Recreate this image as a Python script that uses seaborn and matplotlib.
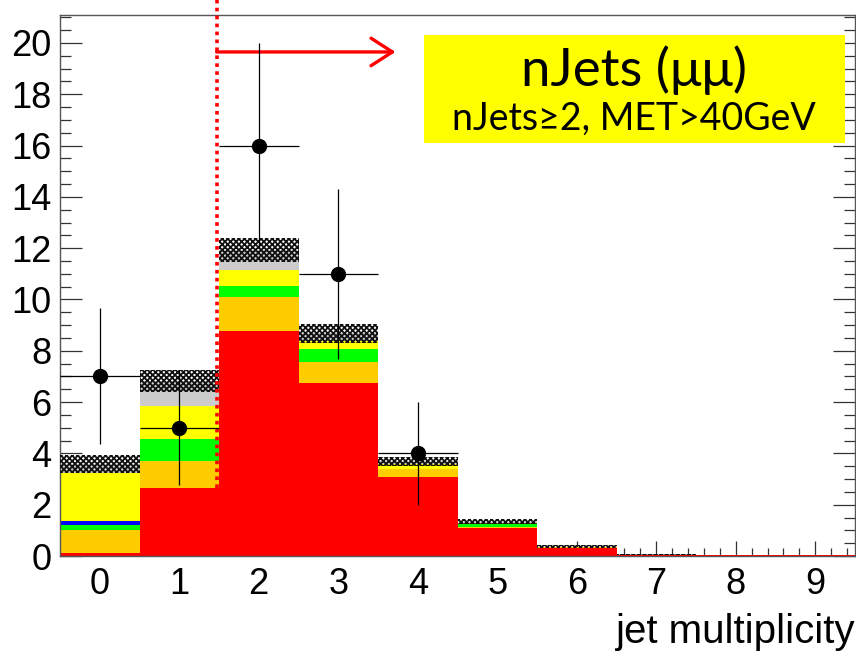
import numpy as np
import pandas as pd
import matplotlib
matplotlib.use("Agg")
import matplotlib.pyplot as plt
from matplotlib.patches import Rectangle
from matplotlib.ticker import MultipleLocator
import seaborn as sns

# ---- histogram contents (jet multiplicity bins 0..9) ----
njet_bins = [0, 1, 2, 3, 4, 5, 6, 7, 8, 9]
mc_red    = [0.13, 2.66, 8.78, 6.76, 3.09, 1.08, 0.33, 0.05, 0.03, 0.02]
mc_orange = [0.89, 1.06, 1.33, 0.80, 0.30, 0.05, 0.02, 0.00, 0.00, 0.00]
mc_green  = [0.18, 0.84, 0.43, 0.51, 0.00, 0.10, 0.00, 0.00, 0.00, 0.00]
mc_blue   = [0.18, 0.00, 0.00, 0.00, 0.00, 0.00, 0.00, 0.00, 0.00, 0.00]
mc_yellow = [1.84, 1.29, 0.61, 0.30, 0.20, 0.06, 0.02, 0.00, 0.00, 0.00]
mc_gray   = [0.36, 0.97, 0.78, 0.31, 0.10, 0.05, 0.00, 0.00, 0.00, 0.00]
mc_unc    = [0.36, 0.43, 0.47, 0.36, 0.17, 0.10, 0.06, 0.01, 0.00, 0.00]

data_x   = [0, 1, 2, 3, 4]
data_y   = [7, 5, 16, 11, 4]
data_err = [2.65, 2.24, 4.00, 3.32, 2.00]

y_ticks = [0, 2, 4, 6, 8, 10, 12, 14, 16, 18, 20]
cut_value = 1.47
title_text = "nJets (\u03bc\u03bc)"
cut_text = "nJets\u22652, MET>40GeV"
x_title = "jet multiplicity"

components = {
    "gray": (mc_gray, "#cccccc"),
    "yellow": (mc_yellow, "#ffff00"),
    "blue": (mc_blue, "#0000ff"),
    "green": (mc_green, "#00ff00"),
    "orange": (mc_orange, "#ffcc00"),
    "red": (mc_red, "#ff0000"),
}

rows = []
for name, (vals, _) in components.items():
    for b, v in zip(njet_bins, vals):
        rows.append({"njet": b, "weight": v, "proc": name})
df = pd.DataFrame(rows)
hue_order = list(components.keys())
palette = {k: c for k, (_, c) in components.items()}

sns.set_style("ticks")
plt.rcParams["font.family"] = ["Liberation Sans", "DejaVu Sans"]
plt.rcParams["hatch.linewidth"] = 1.3
plt.rcParams["text.color"] = "black"
plt.rcParams["axes.labelcolor"] = "black"

fig = plt.figure(figsize=(8.56, 6.56), dpi=100)
ax = fig.add_axes([60 / 856, 1 - 556 / 656, 795 / 856, 541 / 656])

sns.histplot(
    data=df, x="njet", weights="weight", hue="proc", hue_order=hue_order,
    multiple="stack", discrete=True, shrink=1.0, palette=palette,
    element="bars", linewidth=0, alpha=1, legend=False, ax=ax,
)

# uncertainty band on the total prediction
total = np.sum([np.array(v) for v, _ in components.values()], axis=0)
unc = np.array(mc_unc)
ax.bar(njet_bins, 2 * unc, bottom=total - unc, width=1.0, facecolor="none",
       edgecolor="#111111", hatch="xxxxxx", linewidth=0, zorder=3)

# observed data
ax.errorbar(data_x, data_y, yerr=data_err, xerr=0.5, fmt="o", color="black",
            markersize=10, elinewidth=0.9, capsize=0, zorder=6)

# selection cut
ax.plot([cut_value, cut_value], [2.66, 21.7], color="#ff0000", lw=2.6,
        linestyle=(0, (1, 1.2)), clip_on=False, zorder=5)
ax.annotate("", xy=(3.72, 19.65), xytext=(cut_value, 19.65),
            arrowprops=dict(arrowstyle="->,head_length=0.7,head_width=0.45",
                            color="#ff0000", lw=2.4, shrinkA=0, shrinkB=0,
                            mutation_scale=22),
            zorder=5)

ax.add_patch(Rectangle((4.08, 16.1), 5.29, 4.2, facecolor="#ffff00",
                       edgecolor="none", zorder=4))
ax.text(6.72, 18.95, title_text, ha="center", va="center", fontsize=38,
        family=["Lato", "DejaVu Sans"], color="black", zorder=7)
ax.text(6.72, 17.05, cut_text, ha="center", va="center", fontsize=27,
        family=["Lato", "DejaVu Sans"], color="black", zorder=7)

ax.set_xlim(-0.5, 9.5)
ax.set_ylim(0, 21.09)
ax.set_xticks(njet_bins)
ax.set_xticklabels([str(b) for b in njet_bins])
ax.set_yticks(y_ticks)
ax.set_yticklabels([str(t) for t in y_ticks])
ax.xaxis.set_minor_locator(MultipleLocator(0.2))
ax.yaxis.set_minor_locator(MultipleLocator(0.5))
ax.set_axisbelow(True)
ax.tick_params(axis="x", which="major", direction="in", length=11, width=0.9,
               labelsize=26, pad=8, color="#333333", labelcolor="black")
ax.tick_params(axis="x", which="minor", direction="in", length=5.5, width=0.9,
               color="#333333")
ax.tick_params(axis="y", which="major", direction="in", length=16, width=0.9,
               labelsize=26, pad=6, right=True, color="#333333",
               labelcolor="black")
ax.tick_params(axis="y", which="minor", direction="in", length=8, width=0.9,
               right=True, color="#333333")
for s in ax.spines.values():
    s.set_visible(True)
    s.set_color("#555555")
    s.set_linewidth(1.0)

ax.set_ylabel("")
ax.set_xlabel(x_title, fontsize=29, loc="right", labelpad=8, color="black")

fig.savefig("out.png", dpi=100)
